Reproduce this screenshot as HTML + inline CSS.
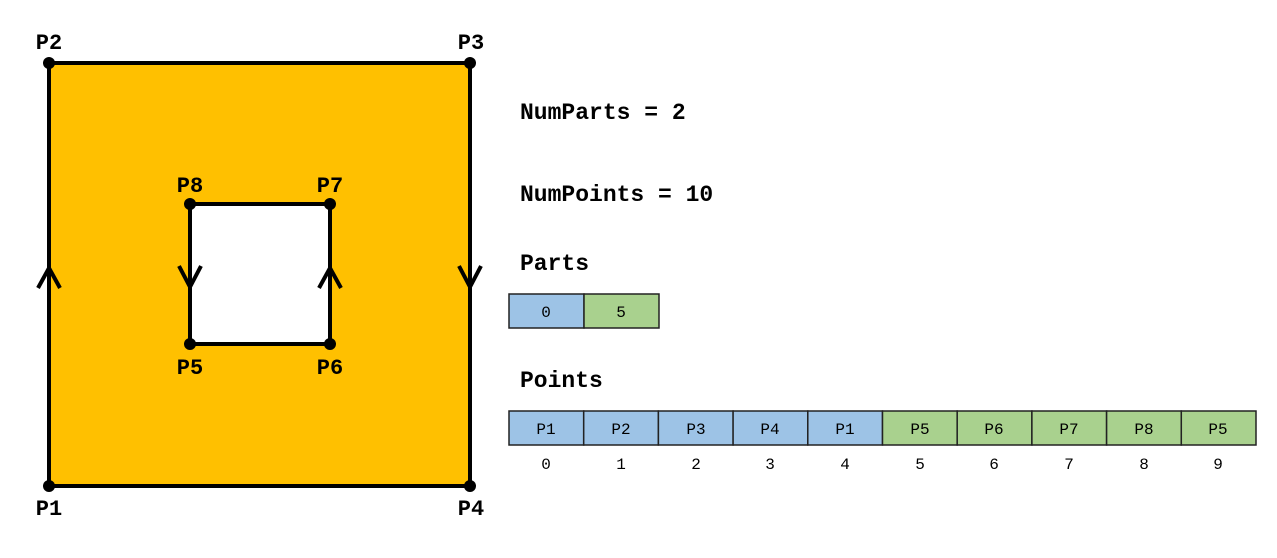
<!DOCTYPE html>
<html><head><meta charset="utf-8"><style>body{margin:0;background:#fff}</style></head><body>
<svg width="1277" height="553" xmlns="http://www.w3.org/2000/svg" font-family="Liberation Mono, DejaVu Sans Mono, monospace">
<path d="M49,63 H470 V486 H49 Z M190,204 V344 H330 V204 Z" fill="#ffc000" fill-rule="evenodd"/>
<rect x="49" y="63" width="421" height="423" fill="none" stroke="#000" stroke-width="4"/>
<rect x="190" y="204" width="140" height="140" fill="none" stroke="#000" stroke-width="4"/>
<g fill="none" stroke="#000" stroke-width="4">
<path d="M38,288 L49,268 L60,288"/>
<path d="M459,266 L470,287 L481,266"/>
<path d="M179,266 L190,287 L201,266"/>
<path d="M319,288 L330,268 L341,288"/>
</g>
<g fill="#000">
<circle cx="49" cy="63" r="6"/><circle cx="470" cy="63" r="6"/><circle cx="49" cy="486" r="6"/><circle cx="470" cy="486" r="6"/>
<circle cx="190" cy="204" r="6"/><circle cx="330" cy="204" r="6"/><circle cx="190" cy="344" r="6"/><circle cx="330" cy="344" r="6"/>
</g>
<g font-size="22" font-weight="bold" text-anchor="middle">
<text x="49" y="49">P2</text><text x="471" y="49">P3</text>
<text x="49" y="515">P1</text><text x="471" y="515">P4</text>
<text x="190" y="192">P8</text><text x="330" y="192">P7</text>
<text x="190" y="374">P5</text><text x="330" y="374">P6</text>
</g>
<g font-size="23" font-weight="bold">
<text x="520" y="119">NumParts = 2</text>
<text x="520" y="201">NumPoints = 10</text>
<text x="520" y="270">Parts</text>
<text x="520" y="387">Points</text>
</g>
<g stroke="#222" stroke-width="1.5">
<rect x="509" y="294" width="75" height="34" fill="#9dc3e6"/>
<rect x="584" y="294" width="75" height="34" fill="#a9d18e"/>
<rect x="509" y="411" width="74.7" height="34" fill="#9dc3e6"/>
<rect x="583.7" y="411" width="74.7" height="34" fill="#9dc3e6"/>
<rect x="658.4" y="411" width="74.7" height="34" fill="#9dc3e6"/>
<rect x="733.1" y="411" width="74.7" height="34" fill="#9dc3e6"/>
<rect x="807.8" y="411" width="74.7" height="34" fill="#9dc3e6"/>
<rect x="882.5" y="411" width="74.7" height="34" fill="#a9d18e"/>
<rect x="957.2" y="411" width="74.7" height="34" fill="#a9d18e"/>
<rect x="1031.9" y="411" width="74.7" height="34" fill="#a9d18e"/>
<rect x="1106.6" y="411" width="74.7" height="34" fill="#a9d18e"/>
<rect x="1181.3" y="411" width="74.7" height="34" fill="#a9d18e"/>
</g>
<g font-size="16" text-anchor="middle">
<text x="546" y="317">0</text><text x="621" y="317">5</text>
<text x="546" y="434">P1</text><text x="621" y="434">P2</text><text x="696" y="434">P3</text><text x="770" y="434">P4</text><text x="845" y="434">P1</text>
<text x="920" y="434">P5</text><text x="994" y="434">P6</text><text x="1069" y="434">P7</text><text x="1144" y="434">P8</text><text x="1218" y="434">P5</text>
<text x="546" y="469">0</text><text x="621" y="469">1</text><text x="696" y="469">2</text><text x="770" y="469">3</text><text x="845" y="469">4</text>
<text x="920" y="469">5</text><text x="994" y="469">6</text><text x="1069" y="469">7</text><text x="1144" y="469">8</text><text x="1218" y="469">9</text>
</g>
</svg>
</body></html>
